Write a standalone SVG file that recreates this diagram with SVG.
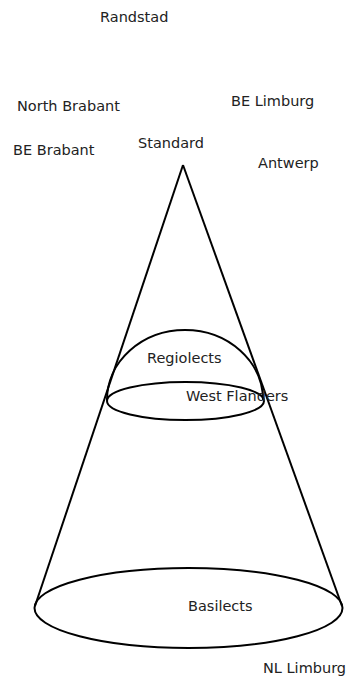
<svg xmlns="http://www.w3.org/2000/svg" width="348" height="677" viewBox="0 0 348 677">
<style>
.lbl{font-family:"DejaVu Sans",sans-serif;font-size:14.5px;fill:#222}
.ln{fill:none;stroke:#000;stroke-width:2}
</style>
<rect width="348" height="677" fill="#fff"/>
<g id="connectors">
<path class="ln" d="M183,165 L35,606"/>
<path class="ln" d="M183,165 L342,606"/>
</g>
<g id="basilects">
<ellipse class="ln" cx="188.5" cy="608" rx="154" ry="40"/>
<text class="lbl" x="188" y="611">Basilects</text>
</g>
<g id="regiolects">
<path class="ln" d="M107,400 A78,70 0 0 1 263,400"/>
<text class="lbl" x="147" y="363">Regiolects</text>
</g>
<g id="west-flanders">
<ellipse class="ln" cx="185.5" cy="401" rx="78.5" ry="19"/>
<text class="lbl" x="186" y="401">West Flanders</text>
</g>
<g id="standard"><text class="lbl" x="138" y="148">Standard</text></g>
<g id="randstad"><text class="lbl" x="100" y="22">Randstad</text></g>
<g id="north-brabant"><text class="lbl" x="17" y="111">North Brabant</text></g>
<g id="be-limburg"><text class="lbl" x="231" y="106">BE Limburg</text></g>
<g id="be-brabant"><text class="lbl" x="13" y="155">BE Brabant</text></g>
<g id="antwerp"><text class="lbl" x="258" y="168">Antwerp</text></g>
<g id="nl-limburg"><text class="lbl" x="263" y="673">NL Limburg</text></g>
</svg>
